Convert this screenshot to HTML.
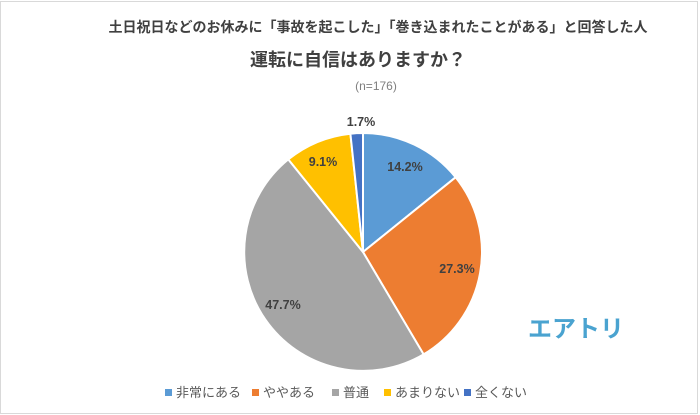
<!DOCTYPE html>
<html><head><meta charset="utf-8"><style>
body{margin:0;background:#fff;}
.w{position:relative;width:700px;height:415px;overflow:hidden;font-family:"Liberation Sans","Noto Sans CJK JP",sans-serif;}
.frame{position:absolute;left:0;top:1px;width:696px;height:411px;border:1px solid #d9d9d9;}
.t{position:absolute;white-space:nowrap;}
</style></head><body><div class="w">
<div class="frame"></div>
<div class="t" style="left:0;width:756px;top:17px;text-align:center;font-size:14px;font-weight:bold;color:#404040;">土日祝日などのお休みに「事故を起こした」「巻き込まれたことがある」と回答した人</div>
<div class="t" style="left:0;width:716px;top:46px;text-align:center;font-size:18px;font-weight:bold;color:#404040;">運転に自信はありますか？</div>
<div class="t" style="left:0;width:752px;top:79px;text-align:center;font-size:12px;color:#7f7f7f;">(n=176)</div>
<svg width="700" height="415" style="position:absolute;left:0;top:0">
<g stroke="#fff" stroke-width="2" stroke-linejoin="round">
<path d="M363,252 L363,133 A119,119 0 0 1 455.6,177.3 Z" fill="#5b9bd5"/>
<path d="M363,252 L455.6,177.3 A119,119 0 0 1 423.6,354.4 Z" fill="#ed7d31"/>
<path d="M363,252 L423.6,354.4 A119,119 0 0 1 288.3,159.4 Z" fill="#a5a5a5"/>
<path d="M363,252 L288.3,159.4 A119,119 0 0 1 350.4,133.7 Z" fill="#ffc000"/>
<path d="M363,252 L350.4,133.7 A119,119 0 0 1 363,133 Z" fill="#4472c4"/>
</g>
<g font-family="Liberation Sans, sans-serif" font-weight="bold" font-size="12.5" fill="#404040" text-anchor="middle">
<text x="405" y="171">14.2%</text>
<text x="457" y="273">27.3%</text>
<text x="283" y="309">47.7%</text>
<text x="323" y="166">9.1%</text>
<text x="361" y="126">1.7%</text>
</g>
<text x="576" y="337" font-family="Liberation Sans, Noto Sans CJK JP, sans-serif" font-weight="bold" font-size="24" fill="#4aa3d0" text-anchor="middle">エアトリ</text>
<g font-family="Liberation Sans, Noto Sans CJK JP, sans-serif" font-size="13" fill="#595959">
<rect x="165" y="389" width="7" height="7" fill="#5b9bd5"/><text x="176" y="397">非常にある</text>
<rect x="252" y="389" width="7" height="7" fill="#ed7d31"/><text x="263" y="397">ややある</text>
<rect x="332" y="389" width="7" height="7" fill="#a5a5a5"/><text x="343" y="397">普通</text>
<rect x="384" y="389" width="7" height="7" fill="#ffc000"/><text x="395" y="397">あまりない</text>
<rect x="464" y="389" width="7" height="7" fill="#4472c4"/><text x="475" y="397">全くない</text>
</g>
</svg>
</div></body></html>
